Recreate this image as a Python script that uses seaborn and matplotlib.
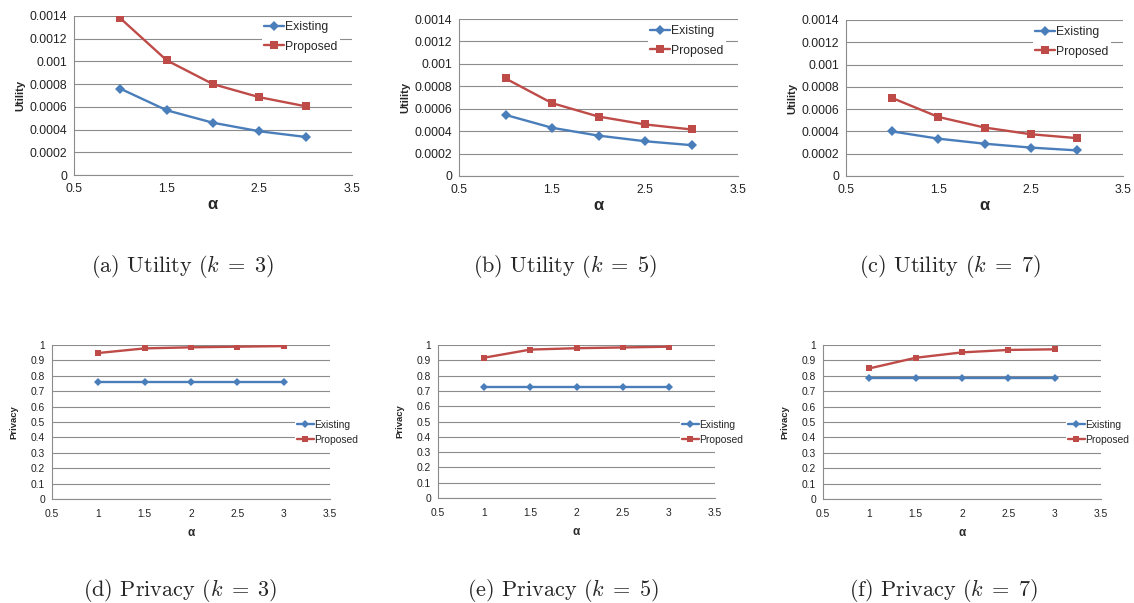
import matplotlib
matplotlib.use("Agg")
import matplotlib.pyplot as plt
import numpy as np
import pandas as pd
import seaborn as sns

# ─── data ───────────────────────────────────────────────────────────────────
ALPHA = [1.0, 1.5, 2.0, 2.5, 3.0]

UTIL_EXISTING_K3 = [0.00076, 0.00057, 0.00046, 0.000385, 0.000335]
UTIL_PROPOSED_K3 = [0.00138, 0.00101, 0.00080, 0.000685, 0.000605]
UTIL_EXISTING_K5 = [0.000545, 0.00043, 0.00036, 0.00031, 0.000275]
UTIL_PROPOSED_K5 = [0.00087, 0.00065, 0.00053, 0.00046, 0.000415]
UTIL_EXISTING_K7 = [0.00040, 0.000335, 0.00029, 0.000255, 0.00023]
UTIL_PROPOSED_K7 = [0.00070, 0.00053, 0.000435, 0.000375, 0.00034]

PRIV_EXISTING_K3 = [0.757, 0.757, 0.757, 0.757, 0.757]
PRIV_PROPOSED_K3 = [0.948, 0.978, 0.985, 0.989, 0.993]
PRIV_EXISTING_K5 = [0.727, 0.727, 0.727, 0.727, 0.727]
PRIV_PROPOSED_K5 = [0.917, 0.970, 0.979, 0.984, 0.989]
PRIV_EXISTING_K7 = [0.787, 0.787, 0.787, 0.787, 0.787]
PRIV_PROPOSED_K7 = [0.848, 0.917, 0.952, 0.968, 0.972]

UTIL_TICKS = [0, 0.0002, 0.0004, 0.0006, 0.0008, 0.001, 0.0012, 0.0014]
UTIL_TICK_LABELS = ["0", "0.0002", "0.0004", "0.0006", "0.0008", "0.001", "0.0012", "0.0014"]
PRIV_TICKS = [0, 0.1, 0.2, 0.3, 0.4, 0.5, 0.6, 0.7, 0.8, 0.9, 1.0]
PRIV_TICK_LABELS = ["0", "0.1", "0.2", "0.3", "0.4", "0.5", "0.6", "0.7", "0.8", "0.9", "1"]

CAPTIONS = [
    r"(a) Utility ($k\;=\;3$)", r"(b) Utility ($k\;=\;5$)", r"(c) Utility ($k\;=\;7$)",
    r"(d) Privacy ($k\;=\;3$)", r"(e) Privacy ($k\;=\;5$)", r"(f) Privacy ($k\;=\;7$)",
]

W, H = 1134, 603
BLUE = "#4A7EBB"
RED = "#BE4B48"
GRID = "#8C8C8C"
TICK_FONT = "Liberation Sans"


def make_frame(existing, proposed):
    return pd.DataFrame({
        "alpha": ALPHA * 2,
        "value": list(existing) + list(proposed),
        "method": ["Existing"] * len(ALPHA) + ["Proposed"] * len(ALPHA),
    })


def px_axes(fig, left, top, right, bottom):
    return fig.add_axes([left / W, 1 - bottom / H, (right - left) / W, (bottom - top) / H])


def draw_panel(fig, box, df, kind, legend_px):
    ax = px_axes(fig, *box)
    small = kind == "privacy"
    tick_fs = 7.4 if small else 8.8
    ms = 5.0 if small else 5.8
    diamond = ms * 0.8

    sns.lineplot(
        data=df, x="alpha", y="value", hue="method", style="method",
        palette={"Existing": BLUE, "Proposed": RED},
        markers={"Existing": "D", "Proposed": "s"}, dashes=False,
        linewidth=1.7, markersize=ms, markeredgewidth=0, ax=ax,
    )
    for line in ax.get_lines():
        if line.get_marker() == "D":
            line.set_markersize(diamond)

    ax.set_xlim(0.5, 3.5)
    if small:
        ax.set_ylim(0, 1.0)
        ax.set_yticks(PRIV_TICKS)
        ax.set_yticklabels(PRIV_TICK_LABELS)
        ax.set_xticks([0.5, 1, 1.5, 2, 2.5, 3, 3.5])
        ax.set_xticklabels(["0.5", "1", "1.5", "2", "2.5", "3", "3.5"])
        ax.set_ylabel("Privacy", fontsize=6.8, fontweight="bold", labelpad=9)
        ax.set_xlabel("α", fontsize=8.5, fontweight="bold", labelpad=6)
    else:
        ax.set_ylim(0, 0.0014)
        ax.set_yticks(UTIL_TICKS)
        ax.set_yticklabels(UTIL_TICK_LABELS)
        ax.set_xticks([0.5, 1.5, 2.5, 3.5])
        ax.set_xticklabels(["0.5", "1.5", "2.5", "3.5"])
        ax.set_ylabel("Utility", fontsize=8, fontweight="bold", labelpad=3)
        ax.set_xlabel("α", fontsize=12, fontweight="bold", labelpad=1)

    ax.grid(axis="y", color=GRID, linewidth=0.8)
    ax.grid(axis="x", visible=False)
    ax.set_axisbelow(True)
    for side in ("top", "right"):
        ax.spines[side].set_visible(False)
    for side in ("left", "bottom"):
        ax.spines[side].set_color(GRID)
        ax.spines[side].set_linewidth(0.8)
    ax.tick_params(axis="both", labelsize=tick_fs, colors="#222222",
                   length=3, width=0.8, color=GRID, direction="out", pad=2)
    ax.tick_params(axis="x", pad=4 if small else 3)
    for lab in ax.get_xticklabels() + ax.get_yticklabels():
        lab.set_family(TICK_FONT)

    lx, ly = legend_px
    sns.move_legend(
        ax, "upper left", bbox_to_anchor=(lx / W, 1 - ly / H),
        bbox_transform=fig.transFigure, title=None, frameon=True,
        fontsize=tick_fs, handlelength=1.6, handletextpad=0.1,
        labelspacing=0.45 if small else 0.6, borderpad=0.2, borderaxespad=0,
    )
    leg = ax.get_legend()
    leg.get_frame().set_facecolor("white")
    leg.get_frame().set_edgecolor("none")
    leg.get_frame().set_alpha(1.0)
    for txt in leg.get_texts():
        txt.set_family(TICK_FONT)
    for handle in leg.legend_handles:
        handle.set_markeredgewidth(0)
        handle.set_linewidth(1.7)
        handle.set_markersize(diamond if handle.get_marker() == "D" else ms)
    return ax


def main() -> None:
    sns.set_style("white")
    plt.rcParams["font.family"] = ["Liberation Sans", "DejaVu Sans"]
    plt.rcParams["mathtext.fontset"] = "cm"

    fig = plt.figure(figsize=(W / 100, H / 100), dpi=100)

    util_boxes = [(74, 16, 352, 175), (459, 19, 738, 176), (846, 20, 1123, 176)]
    priv_boxes = [(52, 345, 330, 499), (438, 345, 715, 498), (823, 345, 1101, 499)]
    util_legends = [(262, 19), (648, 23), (1033, 24)]
    priv_legends = [(295, 418), (680, 418), (1066, 418)]

    util_data = [
        (UTIL_EXISTING_K3, UTIL_PROPOSED_K3),
        (UTIL_EXISTING_K5, UTIL_PROPOSED_K5),
        (UTIL_EXISTING_K7, UTIL_PROPOSED_K7),
    ]
    priv_data = [
        (PRIV_EXISTING_K3, PRIV_PROPOSED_K3),
        (PRIV_EXISTING_K5, PRIV_PROPOSED_K5),
        (PRIV_EXISTING_K7, PRIV_PROPOSED_K7),
    ]

    for box, (ex, pr), lg in zip(util_boxes, util_data, util_legends):
        draw_panel(fig, box, make_frame(ex, pr), "utility", lg)
    for box, (ex, pr), lg in zip(priv_boxes, priv_data, priv_legends):
        draw_panel(fig, box, make_frame(ex, pr), "privacy", lg)

    # sub-figure captions
    cap_pos = [(182, 266), (565, 266), (950, 266), (180, 590), (563, 590), (943, 590)]
    for (cx, cy), cap in zip(cap_pos, CAPTIONS):
        fig.text(cx / W, 1 - cy / H, cap, ha="center", va="center",
                 fontsize=16, family="cmr10")

    fig.savefig("out.png", dpi=100)
    plt.close(fig)


if __name__ == "__main__":
    main()
